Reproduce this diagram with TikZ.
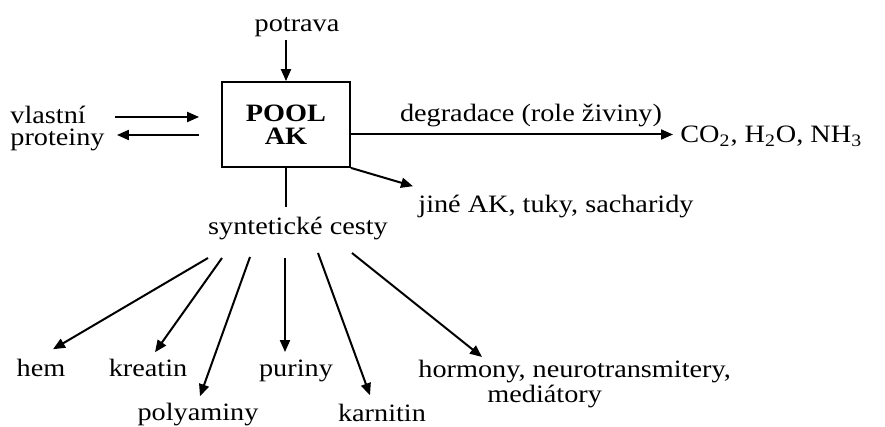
\documentclass[tikz,border=0pt]{standalone}
\usepackage{fontspec}
\setmainfont{Liberation Serif}[FakeStretch=1.13]
\usetikzlibrary{arrows.meta}

\begin{document}
\begin{tikzpicture}[x=0.5pt,y=-0.5pt,
	arr/.style={line width=1pt,-{Triangle[length=6pt,width=5pt]}},
	lab/.style={inner sep=0pt,font=\fontsize{12.5}{11}\selectfont}]
	\useasboundingbox (0,0) rectangle (885,427);
	\node [draw,line width=0.9pt,inner sep=0pt,minimum width=64pt,minimum height=42.5pt,align=center,font=\fontsize{12.5}{11.5}\selectfont\bfseries] (pool) at (286,124.5) {POOL\\AK};
	\begin{scope}[every node/.style={lab}]
	\node [anchor=base] (potrava) at (297,32) {potrava};
	\node [anchor=north west,align=left] (vp) at (10,106) {vlastní\\proteiny};
	\node [anchor=base] (degr) at (531,122) {degradace (role živiny)};
	\node [anchor=base west] (co2) at (680,143) {CO\textsubscript{2}, H\textsubscript{2}O, NH\textsubscript{3}};
	\node [anchor=base west] (jine) at (418,213) {jiné AK, tuky, sacharidy};
	\node [anchor=base] (synt) at (298,235) {syntetické cesty};
	\node [anchor=base] (hem) at (41,377) {hem};
	\node [anchor=base] (kreatin) at (148,377) {kreatin};
	\node [anchor=base] (polyam) at (198,421) {polyaminy};
	\node [anchor=base] (puriny) at (296,377) {puriny};
	\node [anchor=base] (karnitin) at (382,422) {karnitin};
	\node [anchor=north west,align=left] (hormony) at (418,360) {hormony, neurotransmitery,\\\hspace*{34.5pt}mediátory};
	\end{scope}
	% vstupy a vystupy poolu
	\draw [arr,shorten <=1.3pt] (pool.north |- potrava.south) -- (pool.north);
	\draw [arr,shorten <=5pt,shorten >=11pt] ([yshift=3.75pt]pool.west -| vp.east) -- ([yshift=3.75pt]pool.west);
	\draw [arr,shorten <=11pt,shorten >=6pt] ([yshift=-5.25pt]pool.west) -- ([yshift=-5.25pt]pool.west -| vp.east);
	\draw [arr,shorten >=3.5pt] ([yshift=-5pt]pool.east) -- ([yshift=-5pt]pool.east -| co2.west);
	\draw [arr] (pool.south east) -- ([xshift=-2.5pt,yshift=4.5pt]jine.north west);
	\draw [line width=1pt,shorten >=5pt] (pool.south) -- (pool.south |- synt.north);
	% syntetické cesty
	\draw [arr] ([xshift=-45pt,yshift=-11.5pt]synt.base) -- ([xshift=6pt,yshift=5pt]hem.north);
	\draw [arr] ([xshift=-38pt,yshift=-11.5pt]synt.base) -- ([xshift=3.5pt,yshift=3.5pt]kreatin.north);
	\draw [arr] ([xshift=-24pt,yshift=-11pt]synt.base) -- ([xshift=1pt,yshift=3.5pt]polyam.north);
	\draw [arr] ([xshift=-6.5pt,yshift=-11.5pt]synt.base) -- ([xshift=-5.5pt,yshift=4pt]puriny.north);
	\draw [arr] ([xshift=10pt,yshift=-9pt]synt.base) -- ([xshift=-6pt,yshift=4.5pt]karnitin.north);
	\draw [arr] ([xshift=27pt,yshift=-9pt]synt.base) -- ([xshift=32pt,yshift=1.5pt]hormony.north west);
\end{tikzpicture}
\end{document}
